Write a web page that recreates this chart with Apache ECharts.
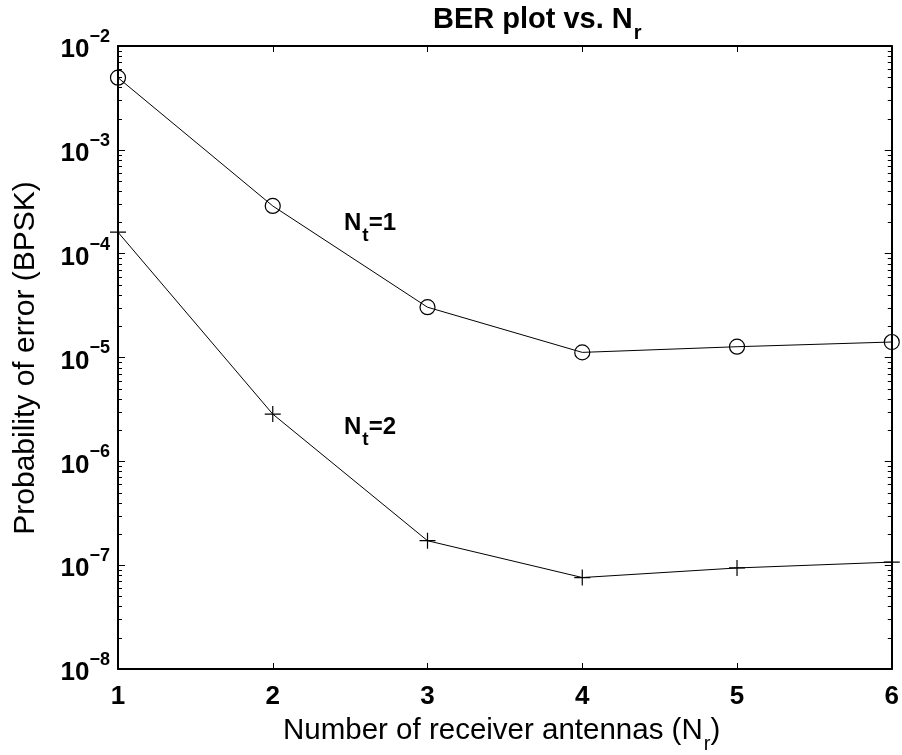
<!DOCTYPE html>
<html><head><meta charset="utf-8">
<script src="https://cdn.jsdelivr.net/npm/echarts@6/dist/echarts.min.js"></script>
<style>html,body{margin:0;padding:0;background:#fff}#c{width:902px;height:755px}</style>
</head><body><div id="c"></div>
<script>
const nr = [1, 2, 3, 4, 5, 6];
const berNt1 = [4.95e-3, 2.88e-4, 3.05e-5, 1.12e-5, 1.27e-5, 1.41e-5];
const berNt2 = [1.61e-4, 2.85e-6, 1.72e-7, 7.6e-8, 9.4e-8, 1.07e-7];
const xTicks = [1, 2, 3, 4, 5, 6];

const FONT = 'Liberation Sans';
const yMinor = [];
for (let k = -8; k < -2; k++) for (let m = 2; m <= 9; m++) yMinor.push(m * Math.pow(10, k));

const chart = echarts.init(document.getElementById('c'), null, {renderer: 'canvas'});

function yLabel(v) {
  const e = Math.round(Math.log10(v));
  return '{b|10}{s|\u2212' + (-e) + '}';
}
const labelRich = {
  b: {fontFamily: FONT, fontWeight: 'bold', fontSize: 26, lineHeight: 26, padding: [9, 0, 0, 0], verticalAlign: 'top', color: '#000'},
  s: {fontFamily: FONT, fontWeight: 'bold', fontSize: 18, lineHeight: 18, verticalAlign: 'top', color: '#000'}
};
const axisLine = {show: true, onZero: false, lineStyle: {color: '#000', width: 2}};
const tickMajor = {show: true, inside: true, length: 7, lineStyle: {color: '#000', width: 1}};

const baseY = {
  type: 'log', logBase: 10, min: 1e-8, max: 1e-2, splitNumber: 6, splitLine: {show: false}, minorTick: {show: false}
};

const textGraphics = [
  {type: 'text', left: 433, top: 5, style: {
    text: '{a|BER plot vs. N}{s|r}',
    rich: {
      a: {fontFamily: FONT, fontWeight: 'bold', fontSize: 29, lineHeight: 29, verticalAlign: 'top', fill: '#000'},
      s: {fontFamily: FONT, fontWeight: 'bold', fontSize: 20, lineHeight: 20, padding: [18, 0, 0, 1], verticalAlign: 'top', fill: '#000'}
    }}},
  {type: 'text', left: 344, top: 211, style: {
    text: '{a|N}{s|t}{a|=1}',
    rich: {
      a: {fontFamily: FONT, fontWeight: 'bold', fontSize: 24, lineHeight: 24, verticalAlign: 'top', fill: '#000'},
      s: {fontFamily: FONT, fontWeight: 'bold', fontSize: 19, lineHeight: 19, padding: [15, 0, 0, 1], verticalAlign: 'top', fill: '#000'}
    }}},
  {type: 'text', left: 344, top: 415, style: {
    text: '{a|N}{s|t}{a|=2}',
    rich: {
      a: {fontFamily: FONT, fontWeight: 'bold', fontSize: 24, lineHeight: 24, verticalAlign: 'top', fill: '#000'},
      s: {fontFamily: FONT, fontWeight: 'bold', fontSize: 19, lineHeight: 19, padding: [15, 0, 0, 1], verticalAlign: 'top', fill: '#000'}
    }}},
  {type: 'text', left: 283, top: 716, style: {
    text: '{a|Number of receiver antennas (N}{s|r}{a|)}',
    rich: {
      a: {fontFamily: FONT, fontSize: 29.5, lineHeight: 29, verticalAlign: 'top', fill: '#000'},
      s: {fontFamily: FONT, fontSize: 20, lineHeight: 20, padding: [18, 0, 0, 1], verticalAlign: 'top', fill: '#000'}
    }}},
  {type: 'text', x: 26, y: 358, rotation: Math.PI / 2, style: {
    text: 'Probability of error (BPSK)', fontFamily: FONT, fontSize: 30, fill: '#000',
    align: 'center', verticalAlign: 'middle'}}
];

const option = {
  animation: false,
  backgroundColor: '#fff',
  grid: {left: 118, right: 9, top: 46, bottom: 86, containLabel: false},
  xAxis: [
    {type: 'value', min: 1, max: 6, interval: 1, position: 'bottom',
     axisLine: axisLine, splitLine: {show: false},
     axisTick: {show: true, inside: true, length: 6, lineStyle: {color: '#000', width: 1}},
     axisLabel: {margin: 15, fontFamily: FONT, fontWeight: 'bold', fontSize: 26, color: '#000',
       formatter: v => xTicks.indexOf(v) >= 0 ? String(v) : ''}},
    {type: 'value', min: 1, max: 6, interval: 1, position: 'top',
     axisLine: axisLine, splitLine: {show: false},
     axisTick: {show: true, inside: true, length: 6, lineStyle: {color: '#000', width: 1}},
     axisLabel: {show: false}}
  ],
  yAxis: [
    Object.assign({}, baseY, {position: 'left', axisLine: axisLine, axisTick: tickMajor,
      axisLabel: {margin: 8, formatter: yLabel, rich: labelRich, padding: [0, 0, 10, 0], showMinLabel: true, showMaxLabel: true}}),
    Object.assign({}, baseY, {position: 'right', axisLine: axisLine, axisTick: tickMajor, axisLabel: {show: false}})
  ],
  series: [
    {name: 'Nt=1', type: 'line', xAxisIndex: 0, yAxisIndex: 0, clip: false,
     data: nr.map((x, i) => [x, berNt1[i]]),
     symbol: 'circle', symbolSize: 15, showAllSymbol: true,
     lineStyle: {color: '#000', width: 1},
     itemStyle: {color: 'rgba(0,0,0,0)', borderColor: '#000', borderWidth: 1.2}},
    {name: 'Nt=2', type: 'line', xAxisIndex: 0, yAxisIndex: 0, clip: false,
     data: nr.map((x, i) => [x, berNt2[i]]),
     symbol: 'path://M8,0L8,16M0,8L16,8', symbolSize: 16, showAllSymbol: true,
     lineStyle: {color: '#000', width: 1},
     itemStyle: {color: 'rgba(0,0,0,0)', borderColor: '#000', borderWidth: 1.2}}
  ],
  graphic: textGraphics
};
chart.setOption(option);

// minor log ticks (2..9 x 10^k) on left and right axes, placed through the chart's own log scale
const tickGraphics = [];
const yAx = chart.getModel().getComponent('yAxis', 0).axis;
const gridRect = chart.getModel().getComponent('grid', 0).coordinateSystem.getRect();
yMinor.forEach(v => {
  const y = Math.round(yAx.toGlobalCoord(yAx.dataToCoord(v))) + 0.5;
  tickGraphics.push({type: 'line', silent: true, z: 50, shape: {x1: gridRect.x, y1: y, x2: gridRect.x + 4, y2: y}, style: {stroke: '#000', lineWidth: 1}});
  tickGraphics.push({type: 'line', silent: true, z: 50, shape: {x1: gridRect.x + gridRect.width, y1: y, x2: gridRect.x + gridRect.width - 4, y2: y}, style: {stroke: '#000', lineWidth: 1}});
});
chart.setOption({graphic: textGraphics.concat(tickGraphics)});
</script></body></html>
